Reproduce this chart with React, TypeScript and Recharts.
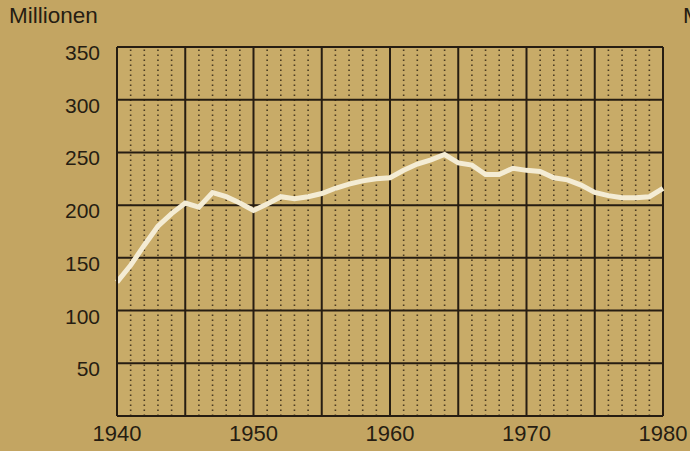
import { LineChart, Line, XAxis, YAxis, CartesianGrid, ReferenceLine } from 'recharts';

const years = [
  1940, 1941, 1942, 1943, 1944, 1945, 1946, 1947, 1948, 1949,
  1950, 1951, 1952, 1953, 1954, 1955, 1956, 1957, 1958, 1959,
  1960, 1961, 1962, 1963, 1964, 1965, 1966, 1967, 1968, 1969,
  1970, 1971, 1972, 1973, 1974, 1975, 1976, 1977, 1978, 1979, 1980,
];

const millions = [
  127, 143, 162, 180, 192, 202, 198, 212, 208, 202,
  195, 201, 208, 206, 208, 211, 216, 220, 223, 225,
  226, 233, 239, 243, 248, 240, 238, 229, 229, 235,
  233, 232, 226, 224, 219, 212, 209, 207, 207, 208, 216,
];

const xTicks = [1940, 1950, 1960, 1970, 1980];
const yTicks = [0, 50, 100, 150, 200, 250, 300, 350];
const majorYears = [1945, 1950, 1955, 1960, 1965, 1970, 1975];

const data = years.map((year, i) => ({ year, value: millions[i] }));

const ink = '#261d12';
const font = '"Liberation Sans", Arial, sans-serif';

const YTick = (props: any) => {
  const { x, y, payload } = props;
  if (payload.value === 0) return null;
  return (
    <text x={x} y={y + 13} textAnchor="end" fontSize={21} fontFamily={font} fill={ink}>
      {payload.value}
    </text>
  );
};

const XTick = (props: any) => {
  const { x, y, payload } = props;
  return (
    <text x={x} y={y + 17} textAnchor="middle" fontSize={22} fontFamily={font} fill={ink}>
      {payload.value}
    </text>
  );
};

export default function App() {
  return (
    <div style={{ position: 'absolute', left: 0, top: 0, width: 690, height: 451, overflow: 'hidden', background: '#c3a562' }}>
      <div style={{ position: 'absolute', left: 9, top: 3, fontSize: 22.5, fontFamily: font, color: ink }}>Millionen</div>
      <div style={{ position: 'absolute', left: 683, top: 3, fontSize: 22.5, fontFamily: font, color: ink }}>Millionen</div>
      <LineChart width={690} height={451} data={data} margin={{ top: 47, right: 27, left: 0, bottom: 0 }}>
        <CartesianGrid vertical={false} horizontal={false} fill="#c8ab68" fillOpacity={1} />
        {years.filter(y => !majorYears.includes(y) && y !== 1940 && y !== 1980).map(y => (
          <ReferenceLine key={y} x={y} stroke="#4a3b22" strokeWidth={1.6} strokeDasharray="1.6 3.4" />
        ))}
        {yTicks.map(v => (
          <ReferenceLine key={'h' + v} y={v} stroke={ink} strokeWidth={2} />
        ))}
        {majorYears.map(y => (
          <ReferenceLine key={'m' + y} x={y} stroke={ink} strokeWidth={2} />
        ))}
        <XAxis
          dataKey="year"
          type="number"
          domain={[1940, 1980]}
          ticks={xTicks}
          height={35}
          axisLine={{ stroke: ink, strokeWidth: 2 }}
          tickLine={false}
          tick={<XTick />}
          interval={0}
        />
        <YAxis
          type="number"
          domain={[0, 350]}
          ticks={yTicks}
          width={117}
          axisLine={{ stroke: ink, strokeWidth: 2 }}
          tickLine={false}
          tickSize={0}
          tickMargin={17}
          tick={<YTick />}
          interval={0}
        />
        <ReferenceLine x={1980} stroke={ink} strokeWidth={2} />
        <Line type="linear" dataKey="value" stroke="#f4ecd4" strokeWidth={5} dot={false} isAnimationActive={false} />
      </LineChart>
    </div>
  );
}
